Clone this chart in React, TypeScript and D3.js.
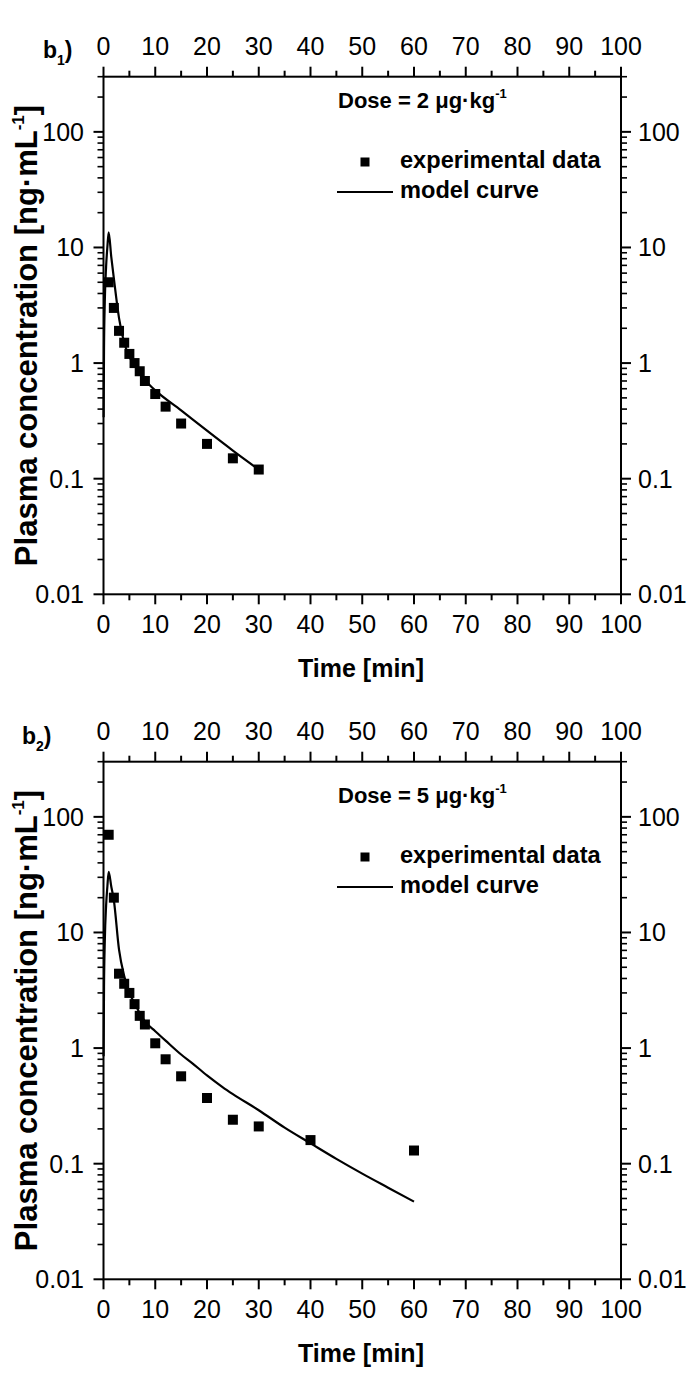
import React from "react";
import * as d3 from "d3";

// ---- Data ----
const xTicks = [0, 10, 20, 30, 40, 50, 60, 70, 80, 90, 100];
const xMinorTicks = [5, 15, 25, 35, 45, 55, 65, 75, 85, 95];
const yTicks = [0.01, 0.1, 1, 10, 100];
const yTickLabels = ["0.01", "0.1", "1", "10", "100"];

// Panel b1 (Dose = 2 µg/kg)
const time1 = [1, 2, 3, 4, 5, 6, 7, 8, 10, 12, 15, 20, 25, 30];
const conc1 = [5.0, 3.0, 1.9, 1.5, 1.2, 1.0, 0.85, 0.7, 0.54, 0.42, 0.3, 0.2, 0.15, 0.12];
const modelT1 = [0.025, 0.1, 0.25, 0.5, 0.75, 1, 1.5, 2, 3, 4, 5, 6, 7, 8, 9, 10, 15, 20, 25, 30];
const modelC1 = [0.34, 1.35, 3.4, 6.8, 10.1, 13.5, 8.3, 5.4, 2.45, 1.5, 1.14, 0.95, 0.83, 0.72, 0.64, 0.58, 0.39, 0.26, 0.175, 0.12];

// Panel b2 (Dose = 5 µg/kg)
const time2 = [1, 2, 3, 4, 5, 6, 7, 8, 10, 12, 15, 20, 25, 30, 40, 60];
const conc2 = [70, 20, 4.4, 3.6, 3.0, 2.4, 1.9, 1.6, 1.1, 0.8, 0.57, 0.37, 0.24, 0.21, 0.16, 0.13];
const modelT2 = [0.025, 0.1, 0.25, 0.5, 0.75, 1, 1.5, 2, 3, 4, 5, 6, 7, 8, 10, 12, 15, 17, 20, 23, 25, 30, 35, 40, 45, 50, 55, 60];
const modelC2 = [0.85, 3.4, 8.4, 17, 25, 33.5, 25, 19, 7.1, 4.2, 3.0, 2.45, 2.0, 1.7, 1.4, 1.16, 0.88, 0.75, 0.58, 0.46, 0.4, 0.29, 0.205, 0.15, 0.11, 0.082, 0.062, 0.047];

const FONT = "'Liberation Sans', Arial, Helvetica, sans-serif";

type PanelProps = {
  oy: number;
  sub: string;
  labelX: number;
  labelY: number;
  dose: string;
  doseY: number;
  legY: number;
  times: number[];
  concs: number[];
  mT: number[];
  mC: number[];
};

const X0 = 103.5;
const X1 = 621;
const YT = 76.7;
const YB = 594.3;

function Panel(p: PanelProps) {
  const x = d3.scaleLinear().domain([0, 100]).range([X0, X1]);
  const y = d3.scaleLog().domain([0.01, 300]).range([YB + p.oy, YT + p.oy]);
  const top = YT + p.oy;
  const bot = YB + p.oy;
  const minorY: number[] = [];
  for (let e = -2; e <= 2; e++) {
    for (let k = 2; k <= 9; k++) {
      const v = k * Math.pow(10, e);
      if (v <= 300) minorY.push(v);
    }
  }
  const line = d3
    .line<number>()
    .x((_, i) => x(p.mT[i]))
    .y((d) => y(d))
    .curve(d3.curveMonotoneX);
  const sw = 2;
  const MAJ = 10;
  const MIN = 6;
  const sq = 10;
  const TF = 25;
  return (
    <g>
      {/* frame */}
      <rect x={X0} y={top} width={X1 - X0} height={bot - top} fill="none" stroke="#000" strokeWidth={sw} />
      {/* x ticks */}
      {xTicks.map((t) => (
        <g key={"xt" + t}>
          <line x1={x(t)} x2={x(t)} y1={bot} y2={bot + MAJ} stroke="#000" strokeWidth={sw} />
          <line x1={x(t)} x2={x(t)} y1={top} y2={top - MAJ} stroke="#000" strokeWidth={sw} />
          <text x={x(t)} y={bot + 39} textAnchor="middle" fontSize={TF} fontFamily={FONT}>{t}</text>
          <text x={x(t)} y={top - 22} textAnchor="middle" fontSize={TF} fontFamily={FONT}>{t}</text>
        </g>
      ))}
      {xMinorTicks.map((t) => (
        <g key={"xm" + t}>
          <line x1={x(t)} x2={x(t)} y1={bot} y2={bot + MIN} stroke="#000" strokeWidth={sw} />
          <line x1={x(t)} x2={x(t)} y1={top} y2={top - MIN} stroke="#000" strokeWidth={sw} />
        </g>
      ))}
      {/* y ticks */}
      {yTicks.map((t, i) => (
        <g key={"yt" + t}>
          <line x1={X0} x2={X0 - MAJ} y1={y(t)} y2={y(t)} stroke="#000" strokeWidth={sw} />
          <line x1={X1} x2={X1 + MAJ} y1={y(t)} y2={y(t)} stroke="#000" strokeWidth={sw} />
          <text x={84} y={y(t)} dy="0.36em" textAnchor="end" fontSize={TF} fontFamily={FONT}>{yTickLabels[i]}</text>
          <text x={638} y={y(t)} dy="0.36em" textAnchor="start" fontSize={TF} fontFamily={FONT}>{yTickLabels[i]}</text>
        </g>
      ))}
      {minorY.map((t) => (
        <g key={"ym" + t}>
          <line x1={X0} x2={X0 - MIN} y1={y(t)} y2={y(t)} stroke="#000" strokeWidth={1.6} />
          <line x1={X1} x2={X1 + MIN} y1={y(t)} y2={y(t)} stroke="#000" strokeWidth={1.6} />
        </g>
      ))}
      {/* model curve */}
      <path d={line(p.mC) || ""} fill="none" stroke="#000" strokeWidth={2.2} strokeLinejoin="round" />
      {/* data */}
      {p.times.map((t, i) => (
        <rect key={"d" + i} x={x(t) - sq / 2} y={y(p.concs[i]) - sq / 2} width={sq} height={sq} fill="#000" />
      ))}
      {/* panel label */}
      <text x={p.labelX} y={p.labelY} fontSize={23} fontWeight="bold" fontFamily={FONT}>
        b<tspan fontSize={14} dy={7}>{p.sub}</tspan>
        <tspan dy={-7}>)</tspan>
      </text>
      {/* dose */}
      <text x={338} y={p.doseY} fontSize={22} fontWeight="bold" fontFamily={FONT}>
        {p.dose}
        <tspan fontSize={13} dy={-10}>-1</tspan>
      </text>
      {/* legend */}
      <rect x={365 - 4.5} y={p.legY - 4.5} width={9} height={9} fill="#000" />
      <text x={400} y={p.legY + 6} fontSize={23.6} fontWeight="bold" fontFamily={FONT}>experimental data</text>
      <line x1={337} x2={393} y1={p.legY + 30} y2={p.legY + 30} stroke="#000" strokeWidth={2.2} />
      <text x={400} y={p.legY + 36} fontSize={23.6} fontWeight="bold" fontFamily={FONT}>model curve</text>
      {/* axis titles */}
      <text x={361} y={676.5 + p.oy} textAnchor="middle" fontSize={25} fontWeight="bold" fontFamily={FONT}>Time [min]</text>
      <text
        transform={`translate(37, ${(top + bot) / 2}) rotate(-90)`}
        textAnchor="middle"
        fontSize={31}
        fontWeight="bold"
        fontFamily={FONT}
      >
        Plasma concentration [ng·mL<tspan fontSize={17} dy={-13}>-1</tspan>
        <tspan dy={13}>]</tspan>
      </text>
    </g>
  );
}

export default function App() {
  return (
    <svg
      width={690}
      height={1380}
      viewBox="0 0 690 1380"
      style={{ position: "absolute", left: 0, top: 0, background: "#fff" }}
    >
      <rect x={0} y={0} width={690} height={1380} fill="#fff" />
      <Panel oy={0} sub="1" labelX={43} labelY={58} dose="Dose = 2 μg·kg" doseY={108} legY={162}
        times={time1} concs={conc1} mT={modelT1} mC={modelC1} />
      <Panel oy={685} sub="2" labelX={22} labelY={744} dose="Dose = 5 μg·kg" doseY={803} legY={857}
        times={time2} concs={conc2} mT={modelT2} mC={modelC2} />
    </svg>
  );
}
